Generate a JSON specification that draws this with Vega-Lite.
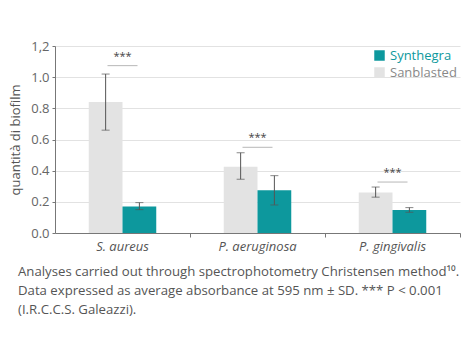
{
  "$schema": "https://vega.github.io/schema/vega-lite/v6.json",
  "autosize": "none",
  "width": 405,
  "height": 187,
  "padding": {"left": 55, "top": 46, "right": 10, "bottom": 117},
  "background": "white",
  "config": {
    "font": "Open Sans",
    "view": {"stroke": null},
    "axis": {"labelFont": "Open Sans", "titleFont": "Open Sans"},
    "axisY": {
      "titleFontSize": 13,
      "titleFontWeight": "normal",
      "titleColor": "#555555",
      "titlePadding": 8,
      "labelOverlap": false,
      "labelFontSize": 13,
      "labelColor": "#666666",
      "labelPadding": 3,
      "gridColor": "#e2e2e2",
      "domainColor": "#777777",
      "tickColor": "#777777",
      "tickSize": 3
    }
  },
  "title": {
    "text": ["Analyses carried out through spectrophotometry Christensen method¹⁰.", "Data expressed as average absorbance at 595 nm ± SD. *** P < 0.001", "(I.R.C.C.S. Galeazzi)."],
    "orient": "bottom",
    "anchor": "start",
    "frame": "group",
    "dx": -37,
    "offset": 13,
    "fontSize": 13.2,
    "fontWeight": "normal",
    "color": "#555555",
    "lineHeight": 19,
    "font": "Open Sans"
  },
  "datasets": {
    "bars": [
      {"category": "S. aureus", "series": "Sanblasted", "value": 0.84, "lo": 0.66, "hi": 1.02},
      {"category": "S. aureus", "series": "Synthegra", "value": 0.17, "lo": 0.15, "hi": 0.195},
      {"category": "P. aeruginosa", "series": "Sanblasted", "value": 0.425, "lo": 0.345, "hi": 0.515},
      {"category": "P. aeruginosa", "series": "Synthegra", "value": 0.274, "lo": 0.18, "hi": 0.368},
      {"category": "P. gingivalis", "series": "Sanblasted", "value": 0.26, "lo": 0.23, "hi": 0.295},
      {"category": "P. gingivalis", "series": "Synthegra", "value": 0.148, "lo": 0.133, "hi": 0.163}
    ],
    "sig": [
      {"category": "S. aureus", "y": 1.074, "label": "***"},
      {"category": "P. aeruginosa", "y": 0.55, "label": "***"},
      {"category": "P. gingivalis", "y": 0.327, "label": "***"}
    ]
  },
  "encoding": {
    "x": {
      "field": "category",
      "type": "nominal",
      "sort": ["S. aureus", "P. aeruginosa", "P. gingivalis"],
      "scale": {"paddingInner": 0, "paddingOuter": 0},
      "axis": {
        "title": null,
        "labelAngle": 0,
        "labelFontSize": 13,
        "labelFontStyle": "italic",
        "labelColor": "#555555",
        "bandPosition": 1,
        "labelPadding": 3,
        "domainColor": "#777777",
        "tickColor": "#777777",
        "tickSize": 4,
        "grid": false
      }
    }
  },
  "layer": [
    {
      "data": {"name": "bars"},
      "mark": {"type": "bar"},
      "encoding": {
        "xOffset": {"field": "series", "type": "nominal", "sort": ["Sanblasted", "Synthegra"], "scale": {"paddingInner": 0, "paddingOuter": 1.25}},
        "y": {
          "field": "value",
          "type": "quantitative",
          "scale": {"domain": [0, 1.2], "nice": false},
          "axis": {
            "title": "quantità di biofilm",
            "values": [0, 0.2, 0.4, 0.6, 0.8, 1.0, 1.2],
            "tickCount": 7,
            "labelExpr": "datum.value > 1.1 ? '1,2' : format(datum.value, '.1f')"
          }
        },
        "color": {
          "field": "series",
          "type": "nominal",
          "scale": {"domain": ["Synthegra", "Sanblasted"], "range": ["#0d989d", "#e3e3e3"]},
          "legend": {
            "title": null,
            "orient": "top-right",
            "offset": 3,
            "symbolType": "square",
            "symbolSize": 110,
            "symbolStrokeWidth": 0,
            "labelFontSize": 13,
            "labelFont": "Open Sans",
            "labelColor": {"expr": "datum.label == 'Synthegra' ? '#0d989d' : '#888888'"},
            "rowPadding": 3,
            "padding": 0
          }
        }
      }
    },
    {
      "data": {"name": "bars"},
      "mark": {"type": "rule", "color": "#555555", "strokeWidth": 1},
      "encoding": {
        "xOffset": {"field": "series", "type": "nominal", "sort": ["Sanblasted", "Synthegra"], "scale": {"paddingInner": 0, "paddingOuter": 1.25}},
        "y": {"field": "lo", "type": "quantitative", "axis": {"title": "quantità di biofilm", "values": [0, 0.2, 0.4, 0.6, 0.8, 1.0, 1.2], "tickCount": 7, "labelExpr": "datum.value > 1.1 ? '1,2' : format(datum.value, '.1f')"}},
        "y2": {"field": "hi"}
      }
    },
    {
      "data": {"name": "bars"},
      "mark": {"type": "tick", "color": "#555555", "thickness": 1, "size": 8, "orient": "horizontal"},
      "encoding": {
        "xOffset": {"field": "series", "type": "nominal", "sort": ["Sanblasted", "Synthegra"], "scale": {"paddingInner": 0, "paddingOuter": 1.25}},
        "y": {"field": "lo", "type": "quantitative", "axis": {"title": "quantità di biofilm", "values": [0, 0.2, 0.4, 0.6, 0.8, 1.0, 1.2], "tickCount": 7, "labelExpr": "datum.value > 1.1 ? '1,2' : format(datum.value, '.1f')"}}
      }
    },
    {
      "data": {"name": "bars"},
      "mark": {"type": "tick", "color": "#555555", "thickness": 1, "size": 8, "orient": "horizontal"},
      "encoding": {
        "xOffset": {"field": "series", "type": "nominal", "sort": ["Sanblasted", "Synthegra"], "scale": {"paddingInner": 0, "paddingOuter": 1.25}},
        "y": {"field": "hi", "type": "quantitative", "axis": {"title": "quantità di biofilm", "values": [0, 0.2, 0.4, 0.6, 0.8, 1.0, 1.2], "tickCount": 7, "labelExpr": "datum.value > 1.1 ? '1,2' : format(datum.value, '.1f')"}}
      }
    },
    {
      "data": {"name": "sig"},
      "mark": {"type": "tick", "color": "#999999", "thickness": 1, "size": 30, "orient": "horizontal"},
      "encoding": {
        "y": {"field": "y", "type": "quantitative", "axis": {"title": "quantità di biofilm", "values": [0, 0.2, 0.4, 0.6, 0.8, 1.0, 1.2], "tickCount": 7, "labelExpr": "datum.value > 1.1 ? '1,2' : format(datum.value, '.1f')"}}
      }
    },
    {
      "data": {"name": "sig"},
      "mark": {"type": "text", "color": "#444444", "fontSize": 11, "dy": -4, "baseline": "bottom", "font": "Open Sans"},
      "encoding": {
        "y": {"field": "y", "type": "quantitative", "axis": {"title": "quantità di biofilm", "values": [0, 0.2, 0.4, 0.6, 0.8, 1.0, 1.2], "tickCount": 7, "labelExpr": "datum.value > 1.1 ? '1,2' : format(datum.value, '.1f')"}},
        "text": {"field": "label"}
      }
    }
  ]
}
